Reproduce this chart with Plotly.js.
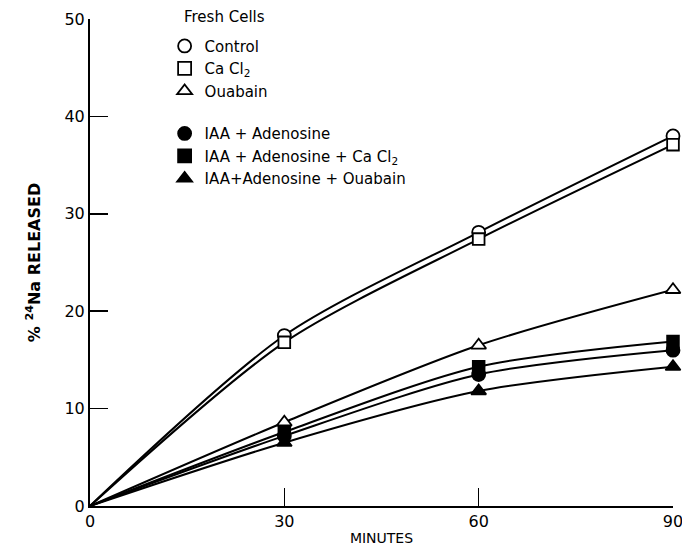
<!DOCTYPE html>
<html>
<head>
<meta charset="utf-8">
<script src="https://cdn.plot.ly/plotly-3.0.1.min.js"></script>
<style>
  html, body { margin: 0; padding: 0; background: #fff; }
  #chart { width: 682px; height: 546px; }
</style>
</head>
<body>
<div id="chart"></div>
<script>
// Sampling times (minutes)
const minutes = [0, 30, 60, 90];
const xTicks = [0, 30, 60, 90];
const yTicks = [0, 10, 20, 30, 40, 50];

// % 24Na released, fresh cells
const control = [0, 17.5, 28.1, 38.0];
const cacl2 = [0, 16.8, 27.4, 37.1];
const ouabain = [0, 8.6, 16.5, 22.2];

// % 24Na released, IAA + adenosine treated cells
const iaaAdo = [0, 7.2, 13.5, 16.0];
const iaaAdoCa = [0, 7.6, 14.3, 16.9];
const iaaAdoOua = [0, 6.5, 11.8, 14.3];

const seriesNames = [
  'Control',
  'Ca Cl<sub>2</sub>',
  'Ouabain',
  'IAA + Adenosine',
  'IAA + Adenosine + Ca Cl<sub>2</sub>',
  'IAA+Adenosine + Ouabain'
];

const FONT = 'DejaVu Sans, Liberation Sans, sans-serif';
const INK = '#000';

const series = [
  { y: control,   symbol: 'circle',       fill: '#fff', group: 'fresh' },
  { y: cacl2,     symbol: 'square',       fill: '#fff', group: 'fresh' },
  { y: ouabain,   symbol: 'triangle-up',  fill: '#fff', group: 'fresh' },
  { y: iaaAdo,    symbol: 'circle',       fill: INK,    group: 'iaa' },
  { y: iaaAdoCa,  symbol: 'square',       fill: INK,    group: 'iaa' },
  { y: iaaAdoOua, symbol: 'triangle-up',  fill: INK,    group: 'iaa' }
];

// no symbol at the origin, where all curves start
const sizes = minutes.map(m => (m === 0 ? 0 : 13));

const traces = [];
series.forEach((s, i) => {
  traces.push({
    x: minutes,
    y: s.y,
    type: 'scatter',
    mode: 'lines+markers',
    cliponaxis: false,
    showlegend: false,
    opacity: 1,
    line: { color: INK, width: 2, shape: 'spline', smoothing: 0.8 },
    marker: {
      symbol: s.symbol,
      size: s.symbol === 'square' ? sizes.map(v => v * 0.9) : sizes,
      color: s.fill,
      opacity: 1,
      line: { color: INK, width: 1.8 }
    },
    hoverinfo: 'skip'
  });
});

// key entries (symbols only)
series.forEach((s, i) => {
  traces.push({
    x: [null],
    y: [null],
    type: 'scatter',
    mode: 'markers',
    name: seriesNames[i],
    legendgroup: s.group,
    showlegend: true,
    marker: {
      symbol: s.symbol,
      size: 13,
      color: s.fill,
      opacity: 1,
      line: { color: INK, width: 1.8 }
    }
  });
});

const layout = {
  width: 682,
  height: 546,
  margin: { l: 90, r: 9, t: 19, b: 40 },
  paper_bgcolor: '#fff',
  plot_bgcolor: '#fff',
  font: { family: FONT, color: INK, size: 15 },
  showlegend: true,
  legend: {
    x: 0.128,
    y: 0.978,
    xanchor: 'left',
    yanchor: 'top',
    bgcolor: 'rgba(0,0,0,0)',
    borderwidth: 0,
    itemwidth: 30,
    tracegroupgap: 20,
    traceorder: 'grouped',
    font: { family: FONT, size: 15, color: INK }
  },
  annotations: [{
    text: 'Fresh Cells',
    xref: 'paper', yref: 'paper',
    x: 0.158, y: 1.004,
    xanchor: 'left', yanchor: 'middle',
    showarrow: false,
    font: { family: FONT, size: 15, color: INK }
  }],
  xaxis: {
    range: [0, 90],
    tickvals: xTicks,
    ticktext: xTicks.map(String),
    ticks: 'inside',
    ticklen: 18,
    tickwidth: 1.5,
    tickcolor: INK,
    ticklabeloverflow: 'allow',
    showline: true,
    linecolor: INK,
    linewidth: 2,
    showgrid: false,
    zeroline: false,
    tickfont: { family: FONT, size: 16, color: INK },
    title: { text: 'MINUTES', font: { family: FONT, size: 14, color: INK }, standoff: 4 }
  },
  yaxis: {
    range: [0, 50],
    tickvals: yTicks,
    ticktext: yTicks.map(String),
    ticks: 'inside',
    ticklen: 18,
    tickwidth: 1.5,
    tickcolor: INK,
    ticklabeloverflow: 'allow',
    showline: true,
    linecolor: INK,
    linewidth: 2,
    showgrid: false,
    zeroline: false,
    tickfont: { family: FONT, size: 16, color: INK },
    title: {
      text: '<b>% <sup>24</sup>Na RELEASED</b>',
      font: { family: FONT, size: 16, color: INK },
      standoff: 20
    }
  }
};

Plotly.newPlot('chart', traces, layout, { displayModeBar: false, staticPlot: true });
</script>
</body>
</html>
